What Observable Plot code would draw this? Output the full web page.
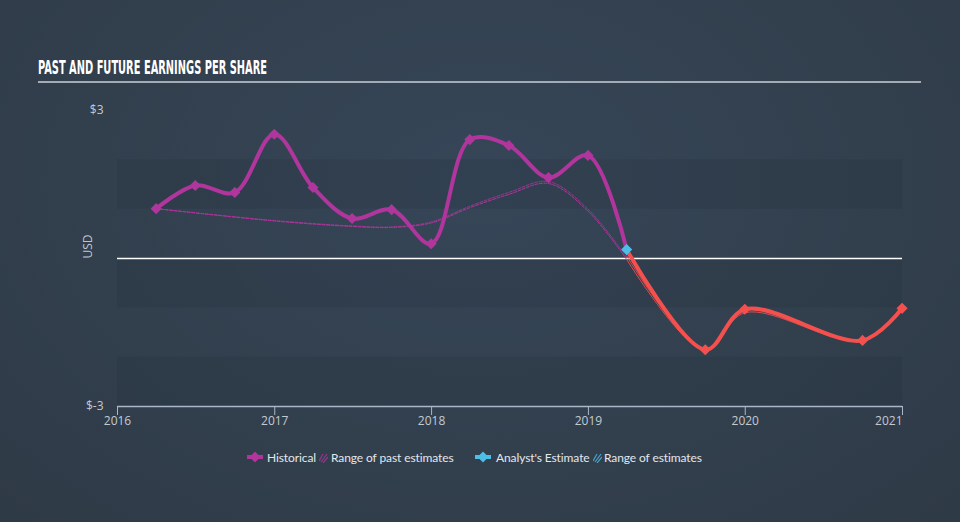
<!DOCTYPE html>
<html>
<head>
<meta charset="utf-8">
<script src="https://cdn.jsdelivr.net/npm/d3@7"></script>
<script src="https://cdn.jsdelivr.net/npm/@observablehq/plot@0.6"></script>
<style>
html, body { margin: 0; padding: 0; }
body {
  width: 960px; height: 522px; overflow: hidden; position: relative;
  background: radial-gradient(ellipse 75% 95% at 50% 35%, #364658 0%, #323f4d 55%, #2e3945 100%);
  font-family: Lato, "Open Sans", sans-serif;
}
#chart { position: absolute; left: 0; top: 0; }
#title { position: absolute; left: 0; top: 0; }
#legend { position: absolute; left: 0; top: 446px; width: 960px; height: 22px; }
.item { position: absolute; top: 0; height: 22px; display: flex; align-items: center; font-size: 12px; color: #e3e7ec; white-space: nowrap; letter-spacing: -0.1px; }
#chart svg [aria-label="x-axis tick"] path, #chart svg [aria-label="x-axis"] line { stroke: #a9b8c8; }
</style>
</head>
<body>
<div id="chart"></div>
<svg id="title" width="960" height="100"></svg>
<div id="legend"></div>
<script>
// ---- data ----
const titleText = "PAST AND FUTURE EARNINGS PER SHARE";
const yAxisLabel = "USD";
const yearTicks = ["2016-01-01", "2017-01-01", "2018-01-01", "2019-01-01", "2020-01-01", "2021-01-01"];
const yTickValues = [-3, 3];

const histDates = ["2016-03-31","2016-06-30","2016-09-30","2016-12-31","2017-03-31","2017-06-30","2017-09-30","2017-12-31","2018-03-31","2018-06-30","2018-09-30","2018-12-31","2019-03-31"];
const histEPS   = [1.01, 1.48, 1.34, 2.52, 1.44, 0.81, 0.99, 0.30, 2.41, 2.29, 1.64, 2.09, 0.18];

const pastEstDates = ["2016-03-31","2016-12-31","2017-06-30","2017-09-30","2017-12-31","2018-03-31","2018-06-30","2018-09-30","2018-12-31","2019-03-31"];
const pastEstLow   = [1.01, 0.76, 0.65, 0.63, 0.72, 1.03, 1.30, 1.52, 0.96, -0.02];
const pastEstHigh  = [1.01, 0.77, 0.66, 0.64, 0.74, 1.06, 1.34, 1.56, 1.00, 0.02];

const futureDates = ["2019-03-31","2019-09-30","2019-12-31","2020-09-30","2020-12-31"];
const futureEPS   = [0.18, -1.85, -1.03, -1.66, -1.01];
const futureLow   = [-0.02, -1.87, -1.10, -1.67, -1.01];
const futureHigh  = [0.05, -1.84, -1.05, -1.65, -1.01];

const bandLow  = [1, -1, -3];
const bandHigh = [2, 0, -2];

const legendLabels = ["Historical", "Range of past estimates", "Analyst's Estimate", "Range of estimates"];

// ---- styles ----
const magenta = "#b0359c";
const red = "#f5504e";
const cyan = "#4dbfe6";

const parse = d3.utcParse("%Y-%m-%d");
const xDomain = [parse(yearTicks[0]), parse(yearTicks[yearTicks.length - 1])];

const hist = histDates.map((d, i) => ({date: parse(d), v: histEPS[i]}));
const pastLow = pastEstDates.map((d, i) => ({date: parse(d), v: pastEstLow[i]}));
const pastHigh = pastEstDates.map((d, i) => ({date: parse(d), v: pastEstHigh[i]}));
const fut = futureDates.map((d, i) => ({date: parse(d), v: futureEPS[i]}));
const futLow = futureDates.map((d, i) => ({date: parse(d), v: futureLow[i]}));
const futHigh = futureDates.map((d, i) => ({date: parse(d), v: futureHigh[i]}));
const bands = bandLow.map((lo, i) => ({lo, hi: bandHigh[i]}));

const chart = Plot.plot({
  width: 960,
  height: 522,
  marginTop: 110,
  marginBottom: 116,
  marginLeft: 117,
  marginRight: 58,
  style: {background: "transparent", color: "#c3cad2", fontFamily: "'Open Sans', sans-serif", fontSize: "12px", overflow: "visible"},
  x: {type: "utc", domain: xDomain, ticks: yearTicks.map(parse), tickFormat: d3.utcFormat("%Y"), tickSize: 9, tickPadding: 1, label: null},
  y: {domain: [-3, 3], ticks: yTickValues, tickFormat: d => `$${d}`, tickSize: 0, tickPadding: 14, label: null},
  marks: [
    Plot.rect(bands, {x1: () => xDomain[0], x2: () => xDomain[1], y1: "lo", y2: "hi", fill: "#1f2833", fillOpacity: 0.17}),
    Plot.ruleY([0], {stroke: "#ffffff", strokeWidth: 1.3}),
    Plot.ruleY([-3], {stroke: "#a9b8c8", strokeWidth: 1.3}),
    Plot.text([yAxisLabel], {frameAnchor: "left", rotate: -90, dx: -29, fill: "#bfc6ce", fontSize: 12}),
    Plot.line(pastLow, {x: "date", y: "v", stroke: magenta, strokeWidth: 1, strokeDasharray: "3,1.5", curve: "catmull-rom"}),
    Plot.line(pastHigh, {x: "date", y: "v", stroke: magenta, strokeWidth: 1, strokeDasharray: "3,1.5", curve: "catmull-rom", strokeOpacity: 0.8}),
    Plot.line(futLow, {x: "date", y: "v", stroke: red, strokeWidth: 1, curve: "catmull-rom", strokeOpacity: 0.85}),
    Plot.line(futHigh, {x: "date", y: "v", stroke: red, strokeWidth: 1, curve: "catmull-rom", strokeOpacity: 0.85}),
    Plot.line(hist, {x: "date", y: "v", stroke: magenta, strokeWidth: 4, curve: "catmull-rom"}),
    Plot.line(fut, {x: "date", y: "v", stroke: red, strokeWidth: 4, curve: "catmull-rom"}),
    Plot.dot(hist.slice(0, -1), {x: "date", y: "v", symbol: "diamond2", r: 5, fill: magenta, stroke: "none"}),
    Plot.dot(fut.slice(1), {x: "date", y: "v", symbol: "diamond2", r: 5, fill: red, stroke: "none"}),
    Plot.dot(hist.slice(-1), {x: "date", y: "v", symbol: "diamond2", r: 5, fill: cyan, stroke: "none"})
  ]
});
document.getElementById("chart").appendChild(chart);

// right-align last year label like the reference
chart.querySelectorAll("text").forEach(t => {
  if (t.textContent === d3.utcFormat("%Y")(xDomain[1])) t.setAttribute("text-anchor", "end");
});

// ---- title ----
const tsvg = d3.select("#title");
tsvg.append("text")
  .attr("x", 38).attr("y", 74)
  .attr("font-family", "'Liberation Sans Narrow', 'DejaVu Sans Condensed', sans-serif")
  .attr("font-weight", "bold").attr("font-size", 20).attr("fill", "#ffffff")
  .attr("textLength", 229).attr("lengthAdjust", "spacingAndGlyphs")
  .text(titleText);
tsvg.append("line").attr("x1", 38).attr("x2", 921).attr("y1", 82).attr("y2", 82)
  .attr("stroke", "#a3abb4").attr("stroke-width", 2);

// ---- legend ----
const legend = d3.select("#legend");
const legendSpec = [
  {kind: "marker", color: magenta, iconX: 247, textX: 267, label: legendLabels[0]},
  {kind: "hatch", color: magenta, iconX: 319, textX: 331, label: legendLabels[1]},
  {kind: "marker", color: cyan, iconX: 475, textX: 496, label: legendLabels[2]},
  {kind: "hatch", color: cyan, iconX: 593, textX: 604, label: legendLabels[3]}
];
legendSpec.forEach(s => {
  const icon = legend.append("svg").style("position", "absolute").style("left", s.iconX + "px").style("top", "5px")
    .attr("width", s.kind === "marker" ? 16 : 9).attr("height", 12);
  if (s.kind === "marker") {
    icon.append("line").attr("x1", 0).attr("x2", 16).attr("y1", 6).attr("y2", 6).attr("stroke", s.color).attr("stroke-width", 4);
    icon.append("path").attr("d", "M8,0.5L13.5,6L8,11.5L2.5,6Z").attr("fill", s.color);
  } else {
    [[0, 10, 4, 3], [2, 11, 8, 3], [4, 12, 9, 6]].forEach(([x1, y1, x2, y2]) =>
      icon.append("line").attr("x1", x1).attr("y1", y1).attr("x2", x2).attr("y2", y2)
        .attr("stroke", s.color).attr("stroke-width", 1.2).attr("opacity", 0.8));
  }
  legend.append("div").attr("class", "item").style("left", s.textX + "px").text(s.label);
});
</script>
</body>
</html>
